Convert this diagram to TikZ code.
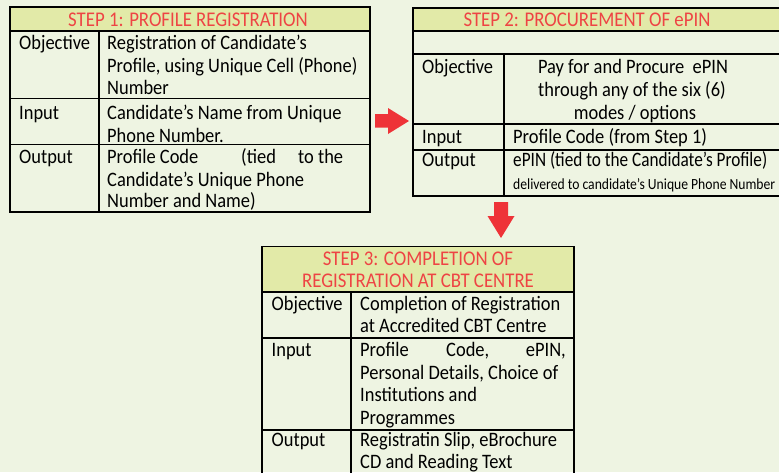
\documentclass[tikz,border=0pt]{standalone}
\usepackage{fontspec}
\setmainfont{Carlito}[FakeStretch=0.9]
\definecolor{bg}{HTML}{EEF4E2}
\definecolor{hdr}{HTML}{E2EAA8}
\definecolor{stepred}{HTML}{EE4444}
\definecolor{arrred}{HTML}{EE3338}
\begin{document}
\begin{tikzpicture}[x=1pt,y=-1pt,
  txt/.style={anchor=base west,inner sep=0pt,font=\fontsize{20.5}{22.5}\selectfont},
  ctxt/.style={txt,anchor=base},
  rtxt/.style={txt,anchor=base east},
  htxt/.style={ctxt,text=stepred,font=\fontsize{20.9}{22.5}\selectfont},
  grid/.style={line width=1.6pt,black},
  blockarrow/.style={fill=arrred,draw=none}]
\useasboundingbox (0,0) rectangle (779,472);
\fill[bg] (0,0) rectangle (779,472);

% ---------- Table 1 ----------
\fill[hdr] (10,7) rectangle (370,31);
\draw[grid] (10,7) rectangle (370,212);
\draw[grid] (10,31) -- (370,31) (10,98.5) -- (370,98.5) (10,144.5) -- (370,144.5) (99,31) -- (99,212);
\node[htxt] (h1) at (188,26) {STEP 1: PROFILE REGISTRATION};
\node[txt] (o1) at (19,49) {Objective};
\node[txt] (o1a) at (107,49) {Registration of Candidate’s};
\node[txt] (o1b) at (107,72) {Profile, using Unique Cell (Phone)};
\node[txt] (o1c) at (107,94.5) {Number};
\node[txt] (i1) at (19,119) {Input};
\node[txt] (i1a) at (107,119) {Candidate’s Name from Unique};
\node[txt] (i1b) at (107,142) {Phone Number.};
\node[txt] (u1) at (19,163.5) {Output};
\node[txt] (u1a) at (107,163.5) {Profile Code};
\node[txt] (u1b) at (241,163.5) {(tied};
\node[txt] (u1c) at (298,163.5) {to the};
\node[txt] (u1d) at (107,186) {Candidate’s Unique Phone};
\node[txt] (u1e) at (107,207.5) {Number and Name)};

% ---------- Table 2 ----------
\fill[hdr] (413,8) rectangle (784,31);
\draw[grid] (784,8) -- (413,8) -- (413,196) -- (784,196);
\draw[grid] (413,31) -- (784,31) (413,54) -- (784,54) (413,124) -- (784,124) (413,150) -- (784,150) (504,54) -- (504,196);
\node[htxt] (h2) at (587,26.5) {STEP 2: PROCUREMENT OF ePIN};
\node[txt] (o2) at (422,73) {Objective};
\node[ctxt] (o2a) at (633,73) {Pay for and Procure\ \ ePIN};
\node[ctxt] (o2b) at (632,96.5) {through any of the six (6)};
\node[ctxt] (o2c) at (635,119) {modes / options};
\node[txt] (i2) at (422,143) {Input};
\node[txt] (i2a) at (513,143) {Profile Code (from Step 1)};
\node[txt] (u2) at (422,166.5) {Output};
\node[txt] (u2a) at (513,166.5) {\resizebox{254pt}{\height}{ePIN (tied to the Candidate’s Profile)}};
\node[txt] (u2b) at (513,189.3) {\resizebox{262pt}{\height}{\fontsize{15.5}{16}\selectfont delivered to candidate’s Unique Phone Number}};

% ---------- Table 3 ----------
\fill[hdr] (262,246.5) rectangle (574,292);
\draw[grid] (262,478) -- (262,246.5) -- (574,246.5) -- (574,478);
\draw[grid] (262,292) -- (574,292) (262,338) -- (574,338) (262,430) -- (574,430) (351,292) -- (351,478);
\node[htxt] (h3a) at (418,265) {STEP 3: COMPLETION OF};
\node[htxt] (h3b) at (418,287) {REGISTRATION AT CBT CENTRE};
\node[txt] (o3) at (271.5,310) {Objective};
\node[txt] (o3a) at (360,310) {Completion of Registration};
\node[txt] (o3b) at (360,332.5) {at Accredited CBT Centre};
\node[txt] (i3) at (271.5,356) {Input};
\node[txt] (i3a) at (360,356) {Profile};
\node[txt] (i3b) at (446,356) {Code,};
\node[rtxt] (i3c) at (566,356) {ePIN,};
\node[txt] (i3d) at (360,379.5) {Personal Details, Choice of};
\node[txt] (i3e) at (360,401.5) {Institutions and};
\node[txt] (i3f) at (360,424) {Programmes};
\node[txt] (u3) at (271.5,446.5) {Output};
\node[txt] (u3a) at (360,446.5) {Registratin Slip, eBrochure};
\node[txt] (u3b) at (360,468) {CD and Reading Text};

% ---------- Block arrows ----------
\fill[blockarrow] (375,114) -- (388,114) -- (388,108) -- (409,121) -- (388,134) -- (388,127.5) -- (375,127.5) -- cycle;
\fill[blockarrow] (494,202) -- (508,202) -- (508,216) -- (514.5,216) -- (501,238) -- (487.5,216) -- (494,216) -- cycle;
\end{tikzpicture}
\end{document}
